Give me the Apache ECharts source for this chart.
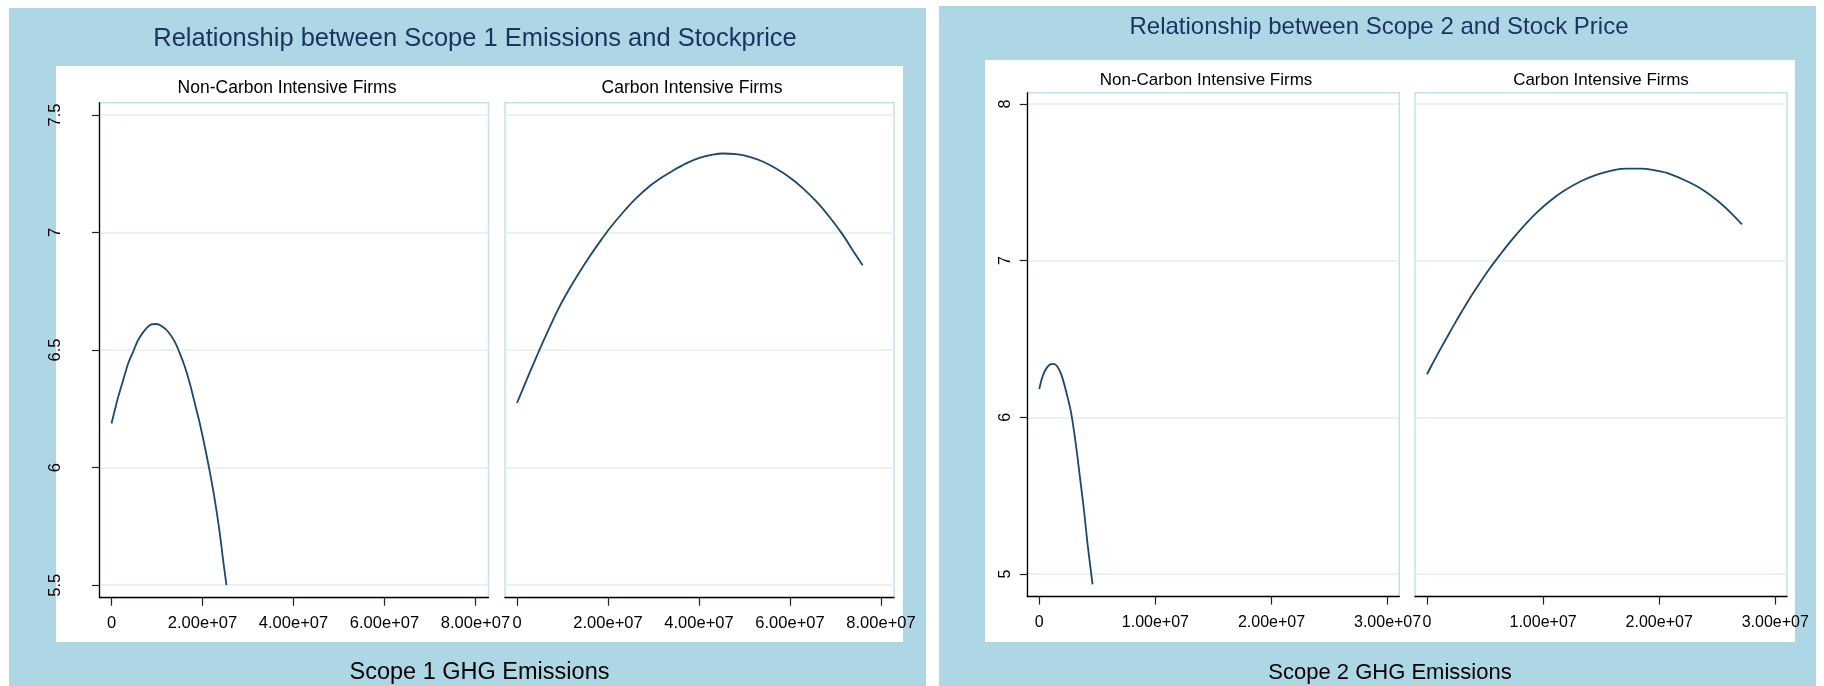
<!DOCTYPE html>
<html><head><meta charset="utf-8">
<script src="https://cdn.jsdelivr.net/npm/echarts@6/dist/echarts.min.js"></script>
<style>html,body{margin:0;padding:0;background:#fff}#c{width:1824px;height:686px}</style>
</head><body><div id="c"></div>
<script>
// ---- text ----
const mainTitles = ['Relationship between Scope 1 Emissions and Stockprice', 'Relationship between Scope 2 and Stock Price'];
const facetTitles = ['Non-Carbon Intensive Firms', 'Carbon Intensive Firms'];
const xTitles = ['Scope 1 GHG Emissions', 'Scope 2 GHG Emissions'];

// ---- ticks ----
const yTicksScope1 = [5.5, 6, 6.5, 7, 7.5];
const yTicksScope2 = [5, 6, 7, 8];
const xTicksScope1 = [0, 2e7, 4e7, 6e7, 8e7];
const xTicksScope2 = [0, 1e7, 2e7, 3e7];

// ---- data (x in units of 1e7 emissions, y = fitted stock price) ----
const UNIT = 1e7;
const s1NonX = [0, 0.073, 0.147, 0.256, 0.366, 0.476, 0.586, 0.733, 0.879, 0.989, 1.099, 1.245, 1.392, 1.502, 1.612, 1.722, 1.832, 1.941, 2.051, 2.161, 2.271, 2.381, 2.454, 2.527];
const s1NonY = [6.188, 6.245, 6.301, 6.372, 6.443, 6.493, 6.543, 6.585, 6.609, 6.611, 6.602, 6.578, 6.535, 6.486, 6.429, 6.358, 6.273, 6.188, 6.089, 5.982, 5.862, 5.720, 5.606, 5.500];
const s1CarX = [0, 0.132, 0.278, 0.425, 0.571, 0.754, 0.937, 1.156, 1.376, 1.596, 1.815, 2.035, 2.328, 2.620, 2.913, 3.206, 3.425, 3.718, 4.011, 4.304, 4.523, 4.816, 5.109, 5.401, 5.694, 5.987, 6.280, 6.573, 6.865, 7.158, 7.378, 7.597];
const s1CarY = [6.275, 6.336, 6.404, 6.470, 6.535, 6.612, 6.686, 6.762, 6.832, 6.898, 6.959, 7.017, 7.085, 7.146, 7.197, 7.237, 7.263, 7.294, 7.317, 7.331, 7.336, 7.333, 7.322, 7.302, 7.272, 7.235, 7.189, 7.133, 7.067, 6.991, 6.925, 6.861];
const s2NonX = [0, 0.020, 0.049, 0.086, 0.121, 0.155, 0.192, 0.235, 0.270, 0.299, 0.327, 0.356, 0.385, 0.413, 0.442, 0.459];
const s2NonY = [6.180, 6.242, 6.297, 6.334, 6.341, 6.325, 6.268, 6.154, 6.044, 5.912, 5.758, 5.582, 5.407, 5.209, 5.033, 4.934];
const s2CarX = [0, 0.057, 0.115, 0.172, 0.230, 0.301, 0.373, 0.459, 0.546, 0.632, 0.718, 0.833, 0.947, 1.062, 1.177, 1.321, 1.464, 1.608, 1.723, 1.838, 1.952, 2.067, 2.211, 2.354, 2.498, 2.613, 2.713];
const s2CarY = [6.275, 6.356, 6.435, 6.510, 6.587, 6.677, 6.765, 6.862, 6.956, 7.040, 7.121, 7.220, 7.308, 7.382, 7.444, 7.505, 7.549, 7.578, 7.587, 7.587, 7.578, 7.560, 7.516, 7.462, 7.385, 7.308, 7.231];

const pairs = (xs, ys) => xs.map((v, k) => [v * UNIT, ys[k]]);

const FONT = '"Liberation Sans", Arial, Helvetica, sans-serif';
const BLUE = '#add7e5';
const BORDER = '#c3e1ec';
const GRIDLINE = '#e4eef1';
const LINE = '#1a476f';

function fmtE(v) {
  if (v === 0) return '0';
  const parts = v.toExponential(2).split('e');
  const sign = parts[1][0];
  let d = parts[1].slice(1);
  if (d.length < 2) d = '0' + d;
  return parts[0] + 'e' + sign + d;
}

const panels = [
  {grids: [{left: 99.5, top: 102.7, width: 389, height: 495}, {left: 505, top: 102.7, width: 389, height: 495}],
   xMin: -2.637e6, xMax: 8.286e7, yMin: 5.447, yMax: 7.552, xTicks: xTicksScope1, yTicks: yTicksScope1,
   yLabelMargin: 44, labelSize: 16.5, xLabelMargin: 17},
  {grids: [{left: 1027.3, top: 92.8, width: 372, height: 503.8}, {left: 1415, top: 92.8, width: 372, height: 503.8}],
   xMin: -1.034e6, xMax: 3.101e7, yMin: 4.856, yMax: 8.071, xTicks: xTicksScope2, yTicks: yTicksScope2,
   yLabelMargin: 21.5, labelSize: 16, xLabelMargin: 17.5}
];
const seriesData = [pairs(s1NonX, s1NonY), pairs(s1CarX, s1CarY), pairs(s2NonX, s2NonY), pairs(s2CarX, s2CarY)];

const grid = [], xAxis = [], yAxis = [], series = [];
panels.forEach((p, pi) => {
  p.grids.forEach((g, gi) => {
    const idx = pi * 2 + gi;
    grid.push(Object.assign({}, g, {show: true, borderColor: BORDER, borderWidth: 1.5, backgroundColor: '#fff', containLabel: false, outerBoundsMode: 'none'}));
    xAxis.push({
      type: 'value', gridIndex: idx, min: p.xMin, max: p.xMax,
      axisLine: {show: true, onZero: false, lineStyle: {color: '#000', width: 1.3}},
      axisTick: {show: true, length: 8, customValues: p.xTicks, lineStyle: {color: '#222', width: 1.2}},
      axisLabel: {customValues: p.xTicks, formatter: fmtE, fontSize: p.labelSize, fontFamily: FONT, color: '#000', margin: p.xLabelMargin},
      splitLine: {show: false}
    });
    const first = gi === 0;
    yAxis.push({
      type: 'value', gridIndex: idx, min: p.yMin, max: p.yMax,
      axisLine: {show: first, onZero: false, lineStyle: {color: '#000', width: 1.3}},
      axisTick: {show: first, length: 7.5, customValues: p.yTicks, lineStyle: {color: '#222', width: 1.2}},
      axisLabel: {show: first, customValues: p.yTicks, rotate: 90, align: 'center', verticalAlign: 'middle', fontSize: p.labelSize, fontFamily: FONT, color: '#000', margin: p.yLabelMargin},
      splitLine: {show: true, lineStyle: {color: GRIDLINE, width: 1.5}}
    });
    series.push({
      type: 'line', xAxisIndex: idx, yAxisIndex: idx, data: seriesData[idx],
      showSymbol: false, symbol: 'none', smooth: 0.3, z: 3,
      lineStyle: {color: LINE, width: 1.8}, silent: true
    });
  });
});

const txt = (x, y, text, size, color) => ({type: 'text', x: x, y: y, z: 10, silent: true,
  style: {text: text, fontSize: size, fontFamily: FONT, fill: color, align: 'center', verticalAlign: 'middle'}});

const graphic = [
  {type: 'rect', z: -10, shape: {x: 9, y: 8, width: 917, height: 678}, style: {fill: BLUE}},
  {type: 'rect', z: -10, shape: {x: 939, y: 6, width: 877, height: 680}, style: {fill: BLUE}},
  {type: 'rect', z: -9, shape: {x: 56, y: 66, width: 847, height: 576}, style: {fill: '#fff'}},
  {type: 'rect', z: -9, shape: {x: 985, y: 60, width: 810, height: 582}, style: {fill: '#fff'}},
  txt(475, 39, mainTitles[0], 25.5, '#1c3461'),
  txt(1379, 27.5, mainTitles[1], 24, '#1c3461'),
  txt(287, 88, facetTitles[0], 17.5, '#000'),
  txt(692, 88, facetTitles[1], 17.5, '#000'),
  txt(1206, 80, facetTitles[0], 17, '#000'),
  txt(1601, 80, facetTitles[1], 17, '#000'),
  txt(479.5, 672.5, xTitles[0], 23.5, '#000'),
  txt(1390, 672.5, xTitles[1], 22, '#000')
];

const chart = echarts.init(document.getElementById('c'), null, {renderer: 'canvas'});
chart.setOption({backgroundColor: '#fff', animation: false, grid, xAxis, yAxis, series, graphic});
</script></body></html>
